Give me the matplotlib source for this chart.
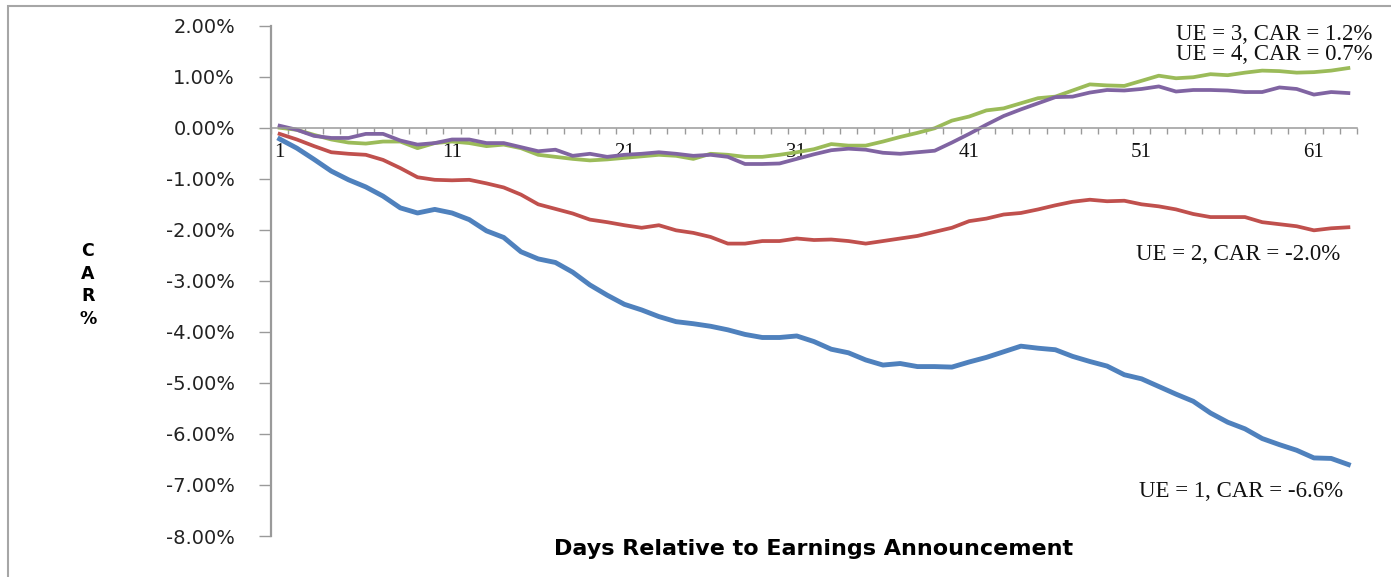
import numpy as np
import matplotlib
matplotlib.use("Agg")
from matplotlib import pyplot as plt
from matplotlib.patches import Rectangle

# CAR (%) by day, one list per UE group
days = list(range(1, 64))
car_ue1 = [-0.22, -0.40, -0.62, -0.85, -1.02, -1.16, -1.34, -1.57, -1.67, -1.60,
           -1.67, -1.80, -2.02, -2.15, -2.43, -2.57, -2.64, -2.83, -3.08, -3.28,
           -3.46, -3.57, -3.70, -3.80, -3.84, -3.89, -3.96, -4.05, -4.11, -4.11,
           -4.08, -4.19, -4.34, -4.41, -4.55, -4.65, -4.62, -4.68, -4.68, -4.69,
           -4.59, -4.50, -4.39, -4.28, -4.32, -4.35, -4.48, -4.58, -4.67, -4.84,
           -4.92, -5.07, -5.22, -5.36, -5.59, -5.77, -5.90, -6.09, -6.21, -6.32,
           -6.47, -6.48, -6.60]
car_ue2 = [-0.12, -0.23, -0.36, -0.48, -0.51, -0.53, -0.63, -0.79, -0.97, -1.02,
           -1.03, -1.02, -1.09, -1.17, -1.31, -1.50, -1.59, -1.68, -1.80, -1.85,
           -1.91, -1.96, -1.91, -2.01, -2.06, -2.14, -2.27, -2.27, -2.22, -2.22,
           -2.17, -2.20, -2.19, -2.22, -2.27, -2.22, -2.17, -2.12, -2.04, -1.96,
           -1.83, -1.78, -1.70, -1.67, -1.60, -1.52, -1.45, -1.41, -1.44, -1.43,
           -1.50, -1.54, -1.60, -1.69, -1.75, -1.75, -1.75, -1.85, -1.89, -1.93,
           -2.01, -1.97, -1.95]
car_ue3 = [0.00, -0.04, -0.14, -0.23, -0.29, -0.31, -0.27, -0.27, -0.40, -0.30,
           -0.27, -0.30, -0.36, -0.33, -0.40, -0.53, -0.57, -0.61, -0.64, -0.62,
           -0.59, -0.56, -0.53, -0.55, -0.61, -0.51, -0.53, -0.57, -0.57, -0.53,
           -0.48, -0.42, -0.32, -0.35, -0.35, -0.27, -0.18, -0.10, -0.01, 0.14,
           0.22, 0.34, 0.38, 0.48, 0.58, 0.61, 0.73, 0.85, 0.83, 0.82,
           0.92, 1.02, 0.97, 0.99, 1.05, 1.03, 1.08, 1.12, 1.11, 1.08,
           1.09, 1.12, 1.17]
car_ue4 = [0.04, -0.04, -0.16, -0.20, -0.20, -0.12, -0.12, -0.25, -0.33, -0.30,
           -0.23, -0.23, -0.30, -0.30, -0.38, -0.46, -0.43, -0.55, -0.51, -0.57,
           -0.53, -0.51, -0.48, -0.51, -0.55, -0.53, -0.57, -0.71, -0.71, -0.70,
           -0.61, -0.52, -0.44, -0.41, -0.43, -0.49, -0.51, -0.48, -0.45, -0.29,
           -0.12, 0.06, 0.23, 0.36, 0.48, 0.60, 0.61, 0.69, 0.74, 0.73,
           0.76, 0.81, 0.71, 0.74, 0.74, 0.73, 0.70, 0.70, 0.79, 0.76,
           0.65, 0.70, 0.68]

labels = ["UE = 1, CAR = -6.6%", "UE = 2, CAR = -2.0%",
          "UE = 3, CAR = 1.2%", "UE = 4, CAR = 0.7%"]
yticks = list(range(-8, 3))
xtick_days = [1, 11, 21, 31, 41, 51, 61]

fig = plt.figure(figsize=(13.91, 5.77), dpi=100)
ax = fig.add_axes([271/1391, 1 - 536/577, (1357 - 271)/1391, (536 - 25.7)/577])

ax.plot(days, car_ue1, color="#4F81BD", lw=3.5, solid_joinstyle="round")
ax.plot(days, car_ue2, color="#C0504D", lw=2.7, solid_joinstyle="round")
ax.plot(days, car_ue3, color="#9BBB59", lw=2.7, solid_joinstyle="round")
ax.plot(days, car_ue4, color="#8064A2", lw=2.7, solid_joinstyle="round")

ax.set_xlim(0.5, len(days) + 0.5)
ax.set_ylim(-8, 2)

# axes look
for s in ["top", "right"]:
    ax.spines[s].set_visible(False)
ax.spines["bottom"].set_position(("data", 0))
ax.spines["bottom"].set_color("#9a9a9a")
ax.spines["bottom"].set_linewidth(1.1)
ax.spines["left"].set_color("#9a9a9a")
ax.spines["left"].set_linewidth(1.6)

ax.set_yticks(yticks)
ax.set_yticklabels(["%.2f%%" % v for v in yticks])
ax.tick_params(axis="y", direction="out", length=9, width=1, color="#9a9a9a",
               pad=17, labelsize=14, labelcolor="#222222")

ax.set_xticks(xtick_days)
ax.set_xticklabels([str(d) for d in xtick_days], fontfamily="Liberation Serif")
ax.set_xticks(np.arange(0.5, len(days) + 1), minor=True)
ax.tick_params(axis="x", which="major", length=0, pad=11, labelsize=15,
               labelcolor="#111111")
ax.tick_params(axis="x", which="minor", direction="out", length=4, width=1,
               color="#9a9a9a")

# labels
fig.text(814/1391, 1 - 549/577, "Days Relative to Earnings Announcement",
         ha="center", va="center", fontsize=16, fontweight="bold")
fig.text(88/1391, 1 - 285/577, "C\nA\nR\n%", ha="center", va="center",
         fontsize=12.5, fontweight="bold", linespacing=1.35)

serif = dict(fontfamily="Liberation Serif", fontsize=16.5, color="#111111",
             ha="right", va="center", clip_on=False)
ax.text(62.7, -7.13, labels[0], **serif)
ax.text(62.5, -2.48, labels[1], **serif)
ax.text(64.4, 1.83, labels[2], **serif)
ax.text(64.4, 1.43, labels[3], **serif)

# outer chart frame
fig.add_artist(Rectangle((8/1391, -0.2), 1.2, 1.2 - 6/577, transform=fig.transFigure,
                         fill=False, edgecolor="#a6a6a6", lw=1.5))

fig.savefig("out.png", dpi=100, facecolor="white")
